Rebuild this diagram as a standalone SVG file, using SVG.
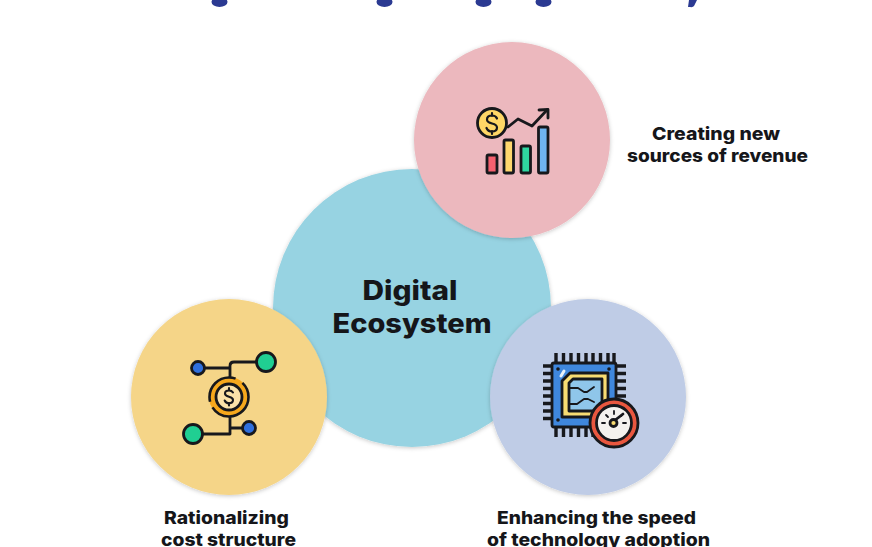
<svg xmlns="http://www.w3.org/2000/svg" width="872" height="547" viewBox="0 0 872 547">
<defs>
<filter id="soft" x="-10%" y="-10%" width="120%" height="120%"><feDropShadow dx="0" dy="1" stdDeviation="2" flood-color="#000" flood-opacity="0.22"/></filter>
</defs>
<style>
text{font-family:"Inter","Open Sans","Liberation Sans",sans-serif;font-weight:800;fill:#15161a;text-anchor:middle}
.lab{font-size:17.5px}
.big{font-size:27px}
.k{stroke:#17181c;stroke-width:2.8;stroke-linecap:round;stroke-linejoin:round}
.l{fill:none;stroke:#17181c;stroke-width:2.8;stroke-linecap:round;stroke-linejoin:round}
.p{fill:none;stroke:#17181c;stroke-width:3.4}
.frag{fill:#2b3a92}
</style>
<rect width="872" height="547" fill="#fff"/>
<g id="title-fragments">
<ellipse class="frag" cx="219.500" cy="2" rx="8" ry="5"/>
<ellipse class="frag" cx="384.500" cy="2" rx="8" ry="5"/>
<ellipse class="frag" cx="483.500" cy="2" rx="8" ry="5"/>
<ellipse class="frag" cx="543.500" cy="2" rx="8" ry="5"/>
<path class="frag" d="M689 0h8l-3 6q-1 1.500-4 1h-2z"/>
</g>
<g id="connectors"></g>
<g id="node-ecosystem">
<circle cx="412" cy="308" r="139" fill="#97D3E2" filter="url(#soft)"/>
<text class="big" x="410" y="300" textLength="95" lengthAdjust="spacingAndGlyphs">Digital</text>
<text class="big" x="412" y="333" textLength="159" lengthAdjust="spacingAndGlyphs">Ecosystem</text>
</g>
<g id="node-revenue">
<circle cx="512" cy="140" r="98" fill="#ECB8BE" filter="url(#soft)"/>
<rect class="k" x="487" y="155" width="10" height="18" rx="1.500" fill="#F4606F"/>
<rect class="k" x="504" y="140" width="9.500" height="33" rx="1.500" fill="#FFD76E"/>
<rect class="k" x="521" y="146" width="9.500" height="27" rx="1.500" fill="#2FD6A0"/>
<rect class="k" x="538.500" y="127" width="9.500" height="46" rx="1.500" fill="#6FB4F0"/>
<polyline class="l" points="508,127 518,119 532,126 547,110"/>
<polyline class="l" points="539,110 548,109.500 548,118"/>
<circle class="k" cx="492" cy="123" r="14.500" fill="#FFD766"/>
<path d="M497 118.500c-1-2.500-3-3-5-3-3 0-5 1.500-5 4 0 5.500 10 2.500 10 8 0 2.500-2 4-5 4-2.500 0-4.500-1-5.500-3.500M492 113v3M492 131v3" fill="none" stroke="#17181c" stroke-width="2.200" stroke-linecap="round"/>
<text class="lab" x="716" y="140" textLength="128" lengthAdjust="spacingAndGlyphs">Creating new</text>
<text class="lab" x="717.500" y="162" textLength="181" lengthAdjust="spacingAndGlyphs">sources of revenue</text>
</g>
<g id="node-cost">
<circle cx="229" cy="397" r="98" fill="#F5D588" filter="url(#soft)"/>
<path class="l" d="M204 368H230M230 378V366Q230 362 234 362H257M230 416V434H202M230 428H243"/>
<circle class="k" cx="198" cy="368" r="6.500" fill="#2F6FDD"/>
<circle class="k" cx="266" cy="362" r="9.500" fill="#20CF92"/>
<circle class="k" cx="193" cy="434" r="9.500" fill="#20CF92"/>
<circle class="k" cx="249" cy="428" r="6.500" fill="#2F6FDD"/>
<circle cx="229" cy="397" r="16.500" fill="none" stroke="#F6A81C" stroke-width="7"/>
<circle cx="229" cy="397" r="19.500" fill="none" stroke="#17181c" stroke-width="2.600" stroke-dasharray="50 6 42 8 16 0"/>
<circle class="k" cx="229" cy="397" r="13" fill="#FBE2A8"/>
<path d="M233 392.500c-1-1.500-2.500-2-4-2-2.500 0-4 1.200-4 3 0 4.500 8 2 8 6.500 0 2-1.500 3.200-4 3.200-2 0-3.500-.8-4.300-2.700M229 388v2.500M229 403v2.500" fill="none" stroke="#17181c" stroke-width="2.100" stroke-linecap="round"/>
<text class="lab" x="226.500" y="524" textLength="125" lengthAdjust="spacingAndGlyphs">Rationalizing</text>
<text class="lab" x="228.500" y="546" textLength="135" lengthAdjust="spacingAndGlyphs">cost structure</text>
</g>
<g id="node-speed">
<circle cx="588" cy="397" r="98" fill="#BFCCE6" filter="url(#soft)"/>
<path class="p" d="M556 353v10M563.500 353v10M571 353v10M578.500 353v10M586 353v10M593 353v10M600.500 353v10M608 353v10M614 353v10M556 427v10M563.500 427v10M571 427v10M578.500 427v10M586 427v10M593 427v10M543 366h9M543 373.500h9M543 381h9M543 388.500h9M543 396h9M543 403.500h9M543 411h9M543 418.500h9M616 366h10M616 373.500h10M616 381h10M616 388.500h10M616 396h10"/>
<rect class="k" x="552" y="363" width="64" height="64" rx="2" fill="#3F87DD"/>
<path class="k" d="M570 373H608V417H562V381Z" fill="#F8DC72"/>
<path class="k" d="M573 379H602V411H569V383Z" fill="#8FC6EA"/>
<path class="l" d="M570 388h8l6 4h3l7-5M570 404h7l7-5h4l6 3" style="stroke-width:1.800"/>
<circle cx="558" cy="369" r="1.800" fill="#17181c"/>
<circle cx="609" cy="369" r="1.800" fill="#17181c"/>
<circle cx="558" cy="420" r="1.800" fill="#17181c"/>
<path d="M561 376l3-5" stroke="#e8f3fc" stroke-width="3" stroke-linecap="round"/>
<circle class="k" cx="614" cy="423" r="24" fill="#E9573F"/>
<circle class="k" cx="614" cy="423" r="17.500" fill="#F4F2EE"/>
<path class="l" d="M602 423h3M614 411v3M606 415l2 2M622 415l-1 1M623 423h3" style="stroke-width:1.800"/>
<path class="l" d="M614 421L623 414"/>
<circle class="k" cx="613.500" cy="423" r="3.500" fill="#F8DC72"/>
<text class="lab" x="596.500" y="524" textLength="199" lengthAdjust="spacingAndGlyphs">Enhancing the speed</text>
<text class="lab" x="598.500" y="546" textLength="223" lengthAdjust="spacingAndGlyphs">of technology adoption</text>
</g>
</svg>
